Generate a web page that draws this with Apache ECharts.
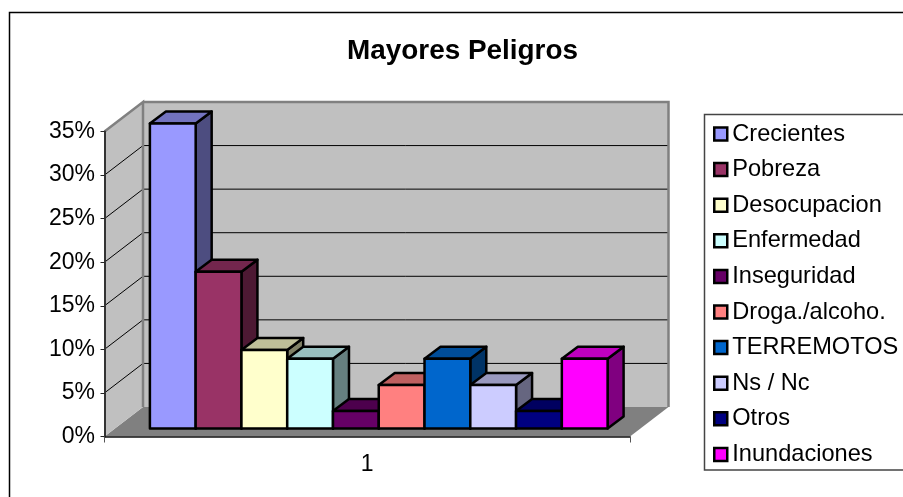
<!DOCTYPE html>
<html>
<head>
<meta charset="utf-8">
<style>html,body{margin:0;padding:0;background:#fff}#c{width:903px;height:497px}</style>
<script src="https://cdn.jsdelivr.net/npm/echarts@6/dist/echarts.min.js"></script>
</head>
<body>
<div id="c"></div>
<script>
var titleText = 'Mayores Peligros';
var xCategories = ['1'];
var names = ['Crecientes','Pobreza','Desocupacion','Enfermedad','Inseguridad','Droga./alcoho.','TERREMOTOS','Ns / Nc','Otros','Inundaciones'];
var values = [35,18,9,8,2,5,8,5,2,8];
var yTicks = [0,5,10,15,20,25,30,35];

var frontColors = ['#9999ff','#993366','#ffffcc','#ccffff','#660066','#ff8080','#0066cc','#ccccff','#000080','#ff00ff'];
var topColors   = ['#7373bf','#73264d','#bfbf99','#99bfbf','#4d004d','#bf6060','#004d99','#9999bf','#000060','#bf00bf'];
var sideColors  = ['#4d4d80','#4d1933','#808066','#668080','#330033','#804040','#003366','#666680','#000040','#800080'];

// 3D projection styling (pixels)
var WALL_DX = 38.5, WALL_DY = -29.5;
var BAR_SHIFT_X = 11.5, BAR_SHIFT_Y = -8;
var BAR_DX = 16, BAR_DY = -12;
var BAR_BAND = 0.0871;

function wallsItem(params, api) {
  var band = api.size([1, 0])[0];
  var base = api.coord([0, 0]);
  var top = api.coord([0, yTicks[yTicks.length - 1]]);
  var l = base[0] - band / 2, r = base[0] + band / 2, b = base[1], t = top[1];
  var ld = l + WALL_DX, rd = r + WALL_DX, bd = b + WALL_DY, td = t + WALL_DY;
  var kids = [
    {type:'polygon', shape:{points:[[l,b],[ld,bd],[rd,bd],[r,b]]}, style:{fill:'#808080'}},
    {type:'polygon', shape:{points:[[l,b],[ld,bd],[ld,td],[l,t]]}, style:{fill:'#c0c0c0'}},
    {type:'rect', shape:{x:ld,y:td,width:rd-ld,height:bd-td}, style:{fill:'#c0c0c0'}}
  ];
  yTicks.forEach(function (v) {
    if (v === 0 || v === yTicks[yTicks.length - 1]) return;
    var y = api.coord([0, v])[1];
    kids.push({type:'polyline', shape:{points:[[l,y],[ld,y+WALL_DY],[rd,y+WALL_DY]]}, style:{fill:null,stroke:'#000',lineWidth:1}});
  });
  kids.push({type:'polyline', shape:{points:[[l,t],[ld,td],[ld,bd]]}, style:{fill:null,stroke:'#808080',lineWidth:2.5}});
  kids.push({type:'polyline', shape:{points:[[ld,td],[rd,td],[rd,bd]]}, style:{fill:null,stroke:'#808080',lineWidth:2.5}});
  return {type:'group', children:kids};
}

function barItem(i) {
  return function (params, api) {
    var band = api.size([1, 0])[0];
    var w = band * BAR_BAND;
    var base = api.coord([0, 0]);
    var head = api.coord([0, api.value(1)]);
    var x0 = base[0] - 5 * w + i * w + BAR_SHIFT_X, x1 = x0 + w;
    var yb = base[1] + BAR_SHIFT_Y, yt = head[1] + BAR_SHIFT_Y;
    function st(fill){ return {fill:fill, stroke:'#000', lineWidth:2.5, lineJoin:'round'}; }
    return {type:'group', children:[
      {type:'polygon', shape:{points:[[x1,yb],[x1+BAR_DX,yb+BAR_DY],[x1+BAR_DX,yt+BAR_DY],[x1,yt]]}, style:st(sideColors[i])},
      {type:'polygon', shape:{points:[[x0,yt],[x0+BAR_DX,yt+BAR_DY],[x1+BAR_DX,yt+BAR_DY],[x1,yt]]}, style:st(topColors[i])},
      {type:'rect', shape:{x:x0,y:yt,width:w,height:yb-yt}, style:st(frontColors[i])}
    ]};
  };
}

var series = [{
  type:'custom', name:'__walls', silent:true, z:1, clip:false,
  renderItem:wallsItem, data:[[0,0]], encode:{x:0,y:1}, tooltip:{show:false}
}];
names.forEach(function (n, i) {
  series.push({
    type:'custom', name:n, z:2+i, clip:false,
    renderItem:barItem(i),
    itemStyle:{color:frontColors[i]},
    encode:{x:0,y:1},
    data:[[0,values[i]]]
  });
});

var FONT = '"Liberation Sans", Arial, sans-serif';
var chart = echarts.init(document.getElementById('c'), null, {renderer:'canvas'});
chart.setOption({
  animation:false,
  backgroundColor:'#fff',
  textStyle:{fontFamily:FONT},
  title:{text:titleText, left:347, top:37, padding:0, textStyle:{fontFamily:FONT,fontSize:27.9,fontWeight:'bold',color:'#000'}},
  grid:{left:104.5, right:273, top:131.5, bottom:60.5, containLabel:false},
  xAxis:{type:'category', data:xCategories, boundaryGap:true, z:5,
    axisLine:{show:true,lineStyle:{color:'#111',width:1.5}},
    axisTick:{show:true,length:6,alignWithLabel:false,lineStyle:{color:'#555',width:1}},
    axisLabel:{show:true,color:'#000',fontFamily:FONT,fontSize:23,margin:17},
    splitLine:{show:false}},
  yAxis:{type:'value', min:0, max:35, interval:5, z:5,
    axisLine:{show:true,lineStyle:{color:'#333',width:2}},
    axisTick:{show:true,length:4,lineStyle:{color:'#222',width:1}},
    axisLabel:{show:true,color:'#000',fontFamily:FONT,fontSize:23,margin:9.5,padding:[3,0,0,0],formatter:'{value}%'},
    splitLine:{show:false}},
  legend:{
    data:names, orient:'vertical', left:713, top:121, padding:0,
    icon:'rect', itemWidth:13, itemHeight:13, itemGap:9.6,
    selectedMode:false,
    itemStyle:{borderColor:'#000',borderWidth:2.5},
    textStyle:{fontFamily:FONT,fontSize:23.6,color:'#000',lineHeight:26}
  },
  graphic:[
    {type:'polyline', silent:true, shape:{points:[[9.5,497],[9.5,12.5],[903,12.5]]}, style:{fill:null,stroke:'#000',lineWidth:1.5}},
    {type:'polyline', silent:true, shape:{points:[[903,114.5],[704.5,114.5],[704.5,470],[903,470]]}, style:{fill:null,stroke:'#444',lineWidth:1.5}}
  ],
  series:series
});
</script>
</body>
</html>
